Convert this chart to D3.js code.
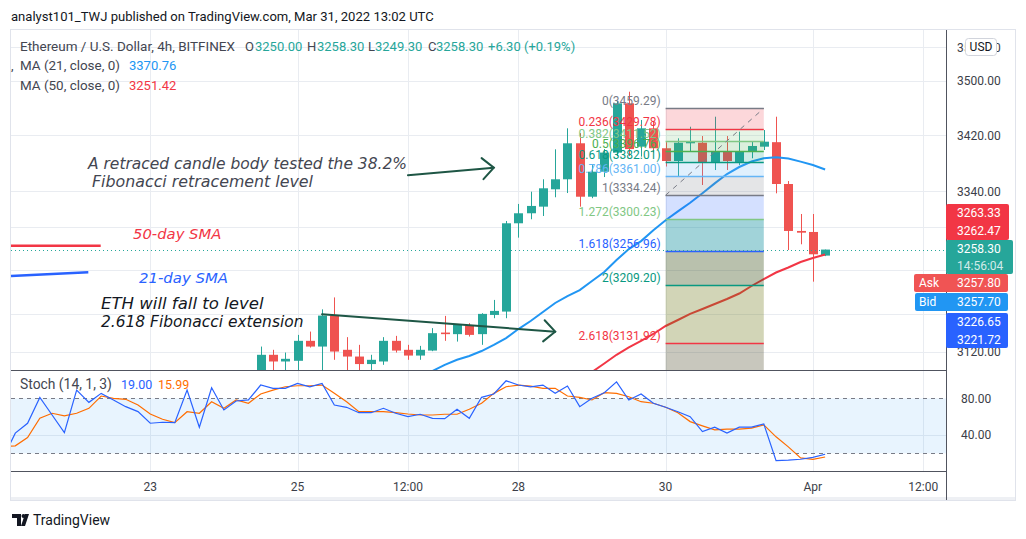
<!DOCTYPE html>
<html><head><meta charset="utf-8">
<script src="https://cdn.jsdelivr.net/npm/d3@7/dist/d3.min.js"></script>
<style>
html,body{margin:0;padding:0;background:#fff;}
svg{display:block;font-family:Roboto,"Noto Sans",sans-serif;}
</style></head><body>
<svg id="chart" width="1026" height="539"></svg>
<script>
// ---------------- DATA ----------------
const candleStart = "2022-03-24T12:00:00Z"; // 4h candles
const candleOpen  = [3094,3116.2,3107.4,3108.3,3134.7,3127.1,3168.4,3122.8,3113.9,3104.0,3107.4,3134.7,3122.8,3115.2,3121.8,3145.7,3143.6,3155.0,3143.6,3169.3,3173.8,3294.8,3308.8,3318.1,3342.6,3356.8,3408.4,3332.1,3367.6,3395.0,3466.6,3403.5,3430.1,3401.2,3382.9,3408.4,3409.2,3380.5,3396.3,3380.5,3396.3,3403.5,3410.0,3350.1,3284.1,3282.7,3250.00];
const candleHigh  = [3127.1,3122.8,3119.2,3142.6,3147.0,3176.8,3192.9,3139.6,3129.4,3116.2,3139.6,3141.3,3129.4,3128.0,3151.6,3168.0,3157.0,3158.2,3171.6,3189.5,3298.0,3321.9,3339.2,3356.8,3399.7,3430.1,3423.0,3377.0,3400.0,3470.0,3483.7,3442.2,3440.0,3410.0,3415.6,3432.4,3418.9,3447.0,3418.9,3425.2,3410.7,3427.6,3447.0,3354.3,3307.8,3307.8,3258.30];
const candleLow   = [3085,3090,3092,3093,3125.8,3092,3109.6,3095,3094,3095,3103.0,3119.2,3109.6,3109.6,3121.0,3134.7,3133.7,3140.4,3129.4,3164.9,3164.9,3274.8,3300.4,3305.0,3331.3,3337.3,3318.1,3330.0,3360.0,3390.0,3390.0,3389.1,3395.0,3375.0,3361.5,3396.3,3348.7,3370.0,3370.0,3377.0,3386.8,3398.7,3336.9,3257.7,3265.6,3214.3,3249.30];
const candleClose = [3116.2,3107.4,3110.9,3134.7,3127.1,3168.4,3120.5,3113.9,3104.0,3109.6,3134.7,3121.8,3115.2,3122.8,3144.9,3143.6,3155.9,3142.6,3170.7,3174.7,3294.8,3308.8,3319.1,3344.0,3356.8,3408.4,3332.1,3367.6,3395.0,3466.6,3400.0,3430.1,3401.2,3382.9,3409.2,3410.7,3380.5,3396.3,3382.9,3396.3,3404.5,3410.7,3350.1,3284.1,3281.7,3251.8,3258.30];

const ma21Start = "2022-03-26T16:00:00Z";
const ma21Values = [3085.7,3094.9,3103.0,3109.6,3114.6,3121.2,3129.4,3138.4,3150.4,3161.1,3173.2,3185.4,3194.8,3202.9,3215.2,3227.5,3243.9,3259.0,3270.0,3285.0,3299.0,3311.4,3323.6,3337.0,3351.0,3364.3,3374.3,3382.2,3386.8,3388.2,3386.5,3382.0,3377.2,3370.76];
const ma50Start = "2022-03-29T00:00:00Z";
const ma50Values = [3093.6,3104.7,3116.2,3125.9,3134.7,3143.8,3154.5,3162.5,3170.7,3177.3,3184.0,3190.8,3198.2,3208.4,3217.9,3226.8,3233.6,3241.2,3246.7,3251.42];

const stochStart = "2022-03-21T00:00:00Z";
const stochK = [15,42,52.8,81,61.8,42.6,89,75.6,85.4,78.2,70.9,65.5,52.8,53.9,53.5,89,48.5,91.5,67.3,77.1,78.2,94.5,90.9,90.9,96.3,92.6,96.3,72.7,70.2,64.3,64.3,69.1,63.7,60,62.6,58.2,57.8,68,58.2,81.1,84.7,99.1,94.5,92.6,94.5,85.4,93.4,70.9,80,86.1,98,78.2,84.7,74.6,70.2,65.4,60,43.7,48.5,42,48.5,48.5,52.1,12,12.5,13.5,15.5,19.00];
const stochD = [27,28.2,37.2,58.2,63.7,60.8,63.7,69.1,82.5,80,78.9,72.7,62.9,57.2,53.5,65.4,63.7,76.3,69.1,78.2,74.6,84.7,89,92.6,93.7,93.7,94.5,85.4,76.3,65.4,65.4,65.4,64.3,62.9,61.8,61.8,62.6,62.6,68,74.6,85.4,92.6,94.5,93.4,90.9,90.9,82.5,81.1,78.2,86.1,85.4,81.7,76.3,74.6,70.2,64.3,54.6,49.9,45.5,46.3,46.3,47.4,51,38,27,15,13.5,15.99];

const fibRatios = ["0","0.236","0.382","0.5","0.618","0.786","1","1.272","1.618","2","2.618"];
const fibPrices = [3459.29,3429.78,3411.52,3396.76,3382.01,3361.00,3334.24,3300.23,3256.96,3209.20,3131.92];
const fibStart = "2022-03-30T00:00:00Z";
const fibEnd   = "2022-03-31T08:00:00Z";

const priceTicks = [3550,3500,3420,3340,3290,3230,3170,3120];
const priceTickLabelsShown = [3550,3500,3420,3340,3120];
const timeTicks = ["2022-03-23T00:00:00Z","2022-03-25T00:00:00Z","2022-03-26T12:00:00Z","2022-03-28T00:00:00Z","2022-03-30T00:00:00Z","2022-04-01T00:00:00Z","2022-04-02T12:00:00Z"];
const timeTickLabels = ["23","25","12:00","28","30","Apr","12:00"];
const stochTicks = [80,40];
const stochBand = [20,80];
const lastPrice = 3258.30;

// ---------------- STYLE ----------------
const UP="#26a69a", DN="#ef5350";
const fibLineColors = ["#787b86","#f23645","#81c784","#4caf50","#089981","#64b5f6","#787b86","#81c784","#2962ff","#089981","#f23645"];
const fibZoneColors = ["rgba(242,54,69,0.2)","rgba(129,199,132,0.2)","rgba(76,175,80,0.2)","rgba(8,153,129,0.2)","rgba(100,181,246,0.2)","rgba(120,123,134,0.2)","rgba(41,98,255,0.2)","rgba(8,140,155,0.38)","rgba(55,78,21,0.35)","rgba(105,115,15,0.3)","rgba(72,68,38,0.3)"];

const svg = d3.select("#chart");
const H4 = 4*3600*1000;
const tAt = (start,i)=> new Date(Date.parse(start)+i*H4);
const L=11,R=946,PT=30,PB=370,SB=471;

// fit a text element to a target width by adjusting its font-size
function fit(sel, target){
  const n = sel.node(); const fs = parseFloat(sel.style("font-size"));
  const w = n.getComputedTextLength(); if(w>0) sel.style("font-size",(fs*target/w).toFixed(2)+"px");
  return sel;
}

const x = d3.scaleUtc().domain([new Date(Date.UTC(2022,2,21,2,36)), new Date(Date.UTC(2022,3,2,19,24))]).range([L,R]);
const y = d3.scaleLog().domain([3096.2,3576]).range([PB,PT]);
const ys = d3.scaleLinear().domain([0.7,110.9]).range([SB,PB]);

const defs = svg.append("defs");
defs.append("clipPath").attr("id","cpP").append("rect").attr("x",L).attr("y",PT).attr("width",R-L).attr("height",PB-PT);
defs.append("clipPath").attr("id","cpS").append("rect").attr("x",L).attr("y",PB).attr("width",R-L).attr("height",SB-PB);

// header
fit(svg.append("text").attr("x",11).attr("y",21).style("font-size","13px").attr("fill","#131722")
  .text("analyst101_TWJ published on TradingView.com, Mar 31, 2022 13:02 UTC"), 423);

// frame
svg.append("rect").attr("x",10.5).attr("y",29.5).attr("width",1005).attr("height",471)
  .attr("fill","#fff").attr("stroke","#e0e3eb");
svg.append("rect").attr("x",11).attr("y",497).attr("width",1004).attr("height",3).attr("fill","#eef0f4");

// grid
const grid = svg.append("g").attr("stroke","#e9ecf1").attr("stroke-width",1);
grid.selectAll("line.v").data(timeTicks).join("line").attr("class","v")
  .attr("x1",d=>Math.round(x(new Date(d)))+0.5).attr("x2",d=>Math.round(x(new Date(d)))+0.5)
  .attr("y1",PT).attr("y2",SB);
grid.selectAll("line.h").data(priceTicks).join("line").attr("class","h")
  .attr("x1",L).attr("x2",R).attr("y1",d=>Math.round(y(d))+0.5).attr("y2",d=>Math.round(y(d))+0.5);

// stoch band
svg.append("rect").attr("x",L).attr("width",R-L).attr("y",ys(stochBand[1])).attr("height",ys(stochBand[0])-ys(stochBand[1]))
  .attr("fill","rgba(33,150,243,0.1)");
grid.selectAll("line.s").data(stochTicks.filter(d=>d!==80)).join("line").attr("class","s")
  .attr("x1",L).attr("x2",R).attr("y1",d=>Math.round(ys(d))+0.5).attr("y2",d=>Math.round(ys(d))+0.5);
svg.append("g").selectAll("line").data(stochBand).join("line")
  .attr("x1",L).attr("x2",R).attr("y1",d=>Math.round(ys(d))+0.5).attr("y2",d=>Math.round(ys(d))+0.5)
  .attr("stroke","#787b86").attr("stroke-dasharray","4,4");

// candles
const candles = candleOpen.map((o,i)=>({t:tAt(candleStart,i),o,h:candleHigh[i],l:candleLow[i],c:candleClose[i]}));
const gP = svg.append("g").attr("clip-path","url(#cpP)");
gP.selectAll("line.w").data(candles).join("line").attr("class","w")
  .attr("x1",d=>Math.round(x(d.t))+0.5).attr("x2",d=>Math.round(x(d.t))+0.5)
  .attr("y1",d=>y(d.h)).attr("y2",d=>y(d.l))
  .attr("stroke",d=>d.c>=d.o?UP:DN).attr("stroke-width",1);
gP.selectAll("rect.b").data(candles).join("rect").attr("class","b")
  .attr("x",d=>Math.round(x(d.t))-4).attr("width",9)
  .attr("y",d=>y(Math.max(d.o,d.c))).attr("height",d=>Math.max(1,Math.abs(y(d.o)-y(d.c))))
  .attr("fill",d=>d.c>=d.o?UP:DN);

// MAs
const lineP = d3.line().x(d=>x(d.t)).y(d=>y(d.v));
gP.append("path").datum(ma21Values.map((v,i)=>({t:tAt(ma21Start,i),v})))
  .attr("d",lineP).attr("fill","none").attr("stroke","#2196f3").attr("stroke-width",2);
gP.append("path").datum(ma50Values.map((v,i)=>({t:tAt(ma50Start,i),v})))
  .attr("d",lineP).attr("fill","none").attr("stroke","#f23645").attr("stroke-width",2);

// fib
const fx0 = x(new Date(fibStart)), fx1 = x(new Date(fibEnd));
const gF = svg.append("g").attr("clip-path","url(#cpP)");
fibPrices.forEach((p,i)=>{
  const y0 = y(p);
  if(i>0){ gF.append("rect").attr("x",fx0).attr("width",fx1-fx0).attr("y",y(fibPrices[i-1])).attr("height",y0-y(fibPrices[i-1])).attr("fill",fibZoneColors[i-1]); }
  if(i===fibPrices.length-1){ gF.append("rect").attr("x",fx0).attr("width",fx1-fx0).attr("y",y0).attr("height",PB-y0).attr("fill",fibZoneColors[i]); }
});
gF.selectAll("line.f").data(fibPrices).join("line").attr("class","f")
  .attr("x1",fx0).attr("x2",fx1).attr("y1",d=>Math.round(y(d))+0.5).attr("y2",d=>Math.round(y(d))+0.5)
  .attr("stroke",(d,i)=>fibLineColors[i]).attr("stroke-width",1.3);
gF.append("line").attr("x1",fx0).attr("y1",y(fibPrices[6])).attr("x2",fx1).attr("y2",y(fibPrices[0]))
  .attr("stroke","#787b86").attr("stroke-dasharray","5,5").attr("stroke-width",1);
svg.append("g").selectAll("text").data(fibPrices).join("text")
  .attr("x",fx0-5).attr("y",d=>y(d)-3).attr("text-anchor","end").style("font-size","12px")
  .attr("fill",(d,i)=>fibLineColors[i]).text((d,i)=>`${fibRatios[i]}(${d.toFixed(2)})`);

// last price dotted line
svg.append("line").attr("x1",L).attr("x2",R).attr("y1",Math.round(y(lastPrice))+0.5).attr("y2",Math.round(y(lastPrice))+0.5)
  .attr("stroke","#26a69a").attr("stroke-dasharray","1,3").attr("stroke-width",1);

// annotations
function annText(xp,yp,color,str,target){
  const t = svg.append("text").attr("x",xp).attr("y",yp).attr("fill",color)
    .style("font-family","'DejaVu Sans',sans-serif").style("font-style","italic").style("font-size","14px").text(str);
  return fit(t,target);
}
annText(88,168.5,"#434651","A retraced candle body tested the 38.2%",319);
annText(92,187,"#434651","Fibonacci retracement level",221);
annText(133,239,"#f23645","50-day SMA",88.4);
annText(139,282.5,"#2962ff","21-day SMA",89);
annText(101,308.5,"#131722","ETH will fall to level",162.6);
annText(101,327,"#131722","2.618 Fibonacci extension",202.6);
svg.append("line").attr("x1",L).attr("x2",100.7).attr("y1",245.7).attr("y2",245.7).attr("stroke","#f23645").attr("stroke-width",2.5);
svg.append("line").attr("x1",L).attr("x2",88.3).attr("y1",276).attr("y2",272.3).attr("stroke","#2962ff").attr("stroke-width",2.5);

const arrows = [
  {t0:"2022-03-26T12:00:00Z",p0:3362.5,t1:"2022-03-27T16:00:00Z",p1:3373.4},
  {t0:"2022-03-25T08:00:00Z",p0:3170.2,t1:"2022-03-28T12:00:00Z",p1:3146.9}
];
arrows.forEach(a=>{
  const X0=x(new Date(a.t0)),Y0=y(a.p0),X1=x(new Date(a.t1)),Y1=y(a.p1);
  const ang=Math.atan2(Y0-Y1,X0-X1), len=15.5, sp=0.75;
  const g=svg.append("g").attr("stroke","#1e5645").attr("stroke-width",2).attr("fill","none").attr("stroke-linecap","round");
  g.append("line").attr("x1",X0).attr("y1",Y0).attr("x2",X1).attr("y2",Y1);
  g.append("polyline").attr("points",[[X1+len*Math.cos(ang+sp),Y1+len*Math.sin(ang+sp)],[X1,Y1],[X1+len*Math.cos(ang-sp),Y1+len*Math.sin(ang-sp)]].map(p=>p.join(",")).join(" "));
});

// legend
const lg = svg.append("g").style("font-size","13px");
const l0 = lg.append("text").attr("x",20).attr("y",51).attr("fill","#434651").text("Ethereum / U.S. Dollar, 4h, BITFINEX");
fit(l0,215);
const l1 = lg.append("text").attr("y",51).attr("fill","#434651");
[["O",245,"3250.00",255],["H",307,"3258.30",317],["L",368,"3249.30",375],["C",428,"3258.30",436]].forEach(r=>{
  l1.append("tspan").attr("x",r[1]).text(r[0]);
  l1.append("tspan").attr("x",r[3]).attr("fill",UP).text(r[2]);
});
l1.append("tspan").attr("x",488).attr("fill",UP).text("+6.30 (+0.19%)");
lg.append("text").attr("x",11).attr("y",70).attr("fill","#434651").text(",");
fit(lg.append("text").attr("x",20).attr("y",70).attr("fill","#434651").text("MA (21, close, 0)"),100);
lg.append("text").attr("x",129).attr("y",70).attr("fill","#2196f3").text("3370.76");
fit(lg.append("text").attr("x",20).attr("y",90).attr("fill","#434651").text("MA (50, close, 0)"),100);
lg.append("text").attr("x",129).attr("y",90).attr("fill","#f23645").text("3251.42");

// stoch
const gS = svg.append("g").attr("clip-path","url(#cpS)");
const lineS = d3.line().x((d,i)=>x(tAt(stochStart,i))).y(d=>ys(d));
gS.append("path").datum(stochD).attr("d",lineS).attr("fill","none").attr("stroke","#ff6d00").attr("stroke-width",1.2);
gS.append("path").datum(stochK).attr("d",lineS).attr("fill","none").attr("stroke","#2962ff").attr("stroke-width",1.2);
fit(svg.append("text").attr("x",20).attr("y",389).style("font-size","12.5px").attr("fill","#434651").text("Stoch (14, 1, 3)"),92);
svg.append("text").attr("x",121).attr("y",389).style("font-size","12.5px").attr("fill","#2962ff").text("19.00");
svg.append("text").attr("x",158).attr("y",389).style("font-size","12.5px").attr("fill","#ff6d00").text("15.99");

// pane separators / axes lines
svg.append("line").attr("x1",L).attr("x2",R).attr("y1",370.5).attr("y2",370.5).attr("stroke","#50535e");
svg.append("line").attr("x1",L).attr("x2",R).attr("y1",471.5).attr("y2",471.5).attr("stroke","#50535e");
svg.append("line").attr("x1",946.5).attr("x2",946.5).attr("y1",30).attr("y2",500).attr("stroke","#50535e");

// price axis labels
svg.append("g").selectAll("text").data(priceTickLabelsShown).join("text")
  .attr("x",957).attr("y",d=>y(d)+4.5).style("font-size","12px").attr("fill","#3b3e48").text(d=>d.toFixed(2));
svg.append("g").selectAll("text").data(stochTicks).join("text")
  .attr("x",961).attr("y",d=>ys(d)+4.5).style("font-size","12px").attr("fill","#3b3e48").text(d=>d.toFixed(2));
// time axis labels
svg.append("g").selectAll("text").data(timeTicks).join("text")
  .attr("x",d=>x(new Date(d))).attr("y",491).attr("text-anchor","middle").style("font-size","12px").attr("fill","#3b3e48")
  .text((d,i)=>timeTickLabels[i]);

// USD box
svg.append("rect").attr("x",965.5).attr("y",38.5).attr("width",31).attr("height",17).attr("rx",3)
  .attr("fill","#fff").attr("stroke","#d1d4dc");
svg.append("text").attr("x",981).attr("y",51).attr("text-anchor","middle").style("font-size","12px").attr("fill","#131722").text("USD");

// price tags
const tags = [
  {lines:["3263.33","3262.47"],bg:"#f23645",y0:204,y1:240,x0:946,x1:1009},
  {lines:["3258.30","14:56:04"],bg:"#26a69a",y0:240,y1:274,x0:946,x1:1013},
  {lines:["3257.80"],lab:"Ask",bg:"#f05454",y0:274,y1:292,x0:914,x1:1008},
  {lines:["3257.70"],lab:"Bid",bg:"#2196f3",y0:293,y1:311,x0:915,x1:1008},
  {lines:["3226.65","3221.72"],bg:"#2962ff",y0:313,y1:348,x0:946,x1:1008}
];
tags.forEach(tg=>{
  svg.append("rect").attr("x",tg.x0).attr("y",tg.y0).attr("width",tg.x1-tg.x0).attr("height",tg.y1-tg.y0).attr("rx",2).attr("fill",tg.bg);
  const n=tg.lines.length, h=(tg.y1-tg.y0)/n;
  tg.lines.forEach((s,i)=>{
    svg.append("text").attr("x",957).attr("y",tg.y0+h*i+h/2+4.3).style("font-size","12px")
      .attr("fill", (tg.bg==="#26a69a"&&i===1)?"rgba(255,255,255,0.8)":"#fff").text(s);
  });
  if(tg.lab) svg.append("text").attr("x",919).attr("y",(tg.y0+tg.y1)/2+4.3).style("font-size","12px").attr("fill","#fff").text(tg.lab);
});

// footer
const ft = svg.append("g");
ft.append("path").attr("d","M12,514 h9 v12 h-4 v-8 h-5 z").attr("fill","#131722");
ft.append("circle").attr("cx",23.5).attr("cy",516).attr("r",2).attr("fill","#131722");
ft.append("path").attr("d","M25,514 h4 l-4,12 h-4 z").attr("fill","#131722");
ft.append("text").attr("x",33).attr("y",525).style("font-size","14px").attr("fill","#131722").text("TradingView");
</script>
</body></html>
